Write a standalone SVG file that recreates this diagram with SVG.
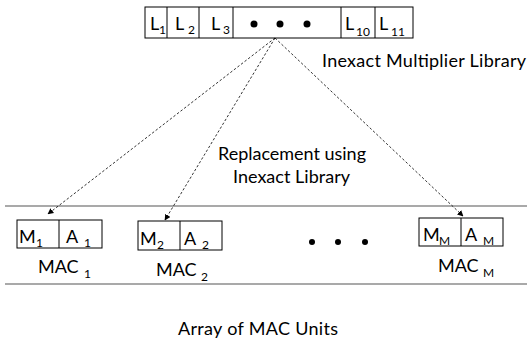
<svg xmlns="http://www.w3.org/2000/svg" width="529" height="341" viewBox="0 0 529 341">
<defs>
<style>
text{font-family:Lato,"Open Sans","Liberation Sans",sans-serif;fill:#000}
.lbl{font-size:18px}
.sub{font-size:12px}
.box{fill:#fff;stroke:#000;stroke-width:1}
.conn{stroke:#000;stroke-width:0.8;stroke-dasharray:2.5,2;fill:none}
.rule{stroke:#555;stroke-width:1.2}
</style>
<marker id="ah" viewBox="0 0 10 10" refX="9" refY="5" markerWidth="6" markerHeight="6" orient="auto-start-reverse" markerUnits="userSpaceOnUse">
<path d="M0,0 L10,5 L0,10 z" fill="#000"/>
</marker>
</defs>
<rect width="529" height="341" fill="#fff"/>

<g id="library">
<rect class="box" x="145" y="7" width="268" height="31"/>
<line x1="167" y1="7" x2="167" y2="38" stroke="#000"/>
<line x1="199" y1="7" x2="199" y2="38" stroke="#000"/>
<line x1="233" y1="7" x2="233" y2="38" stroke="#000"/>
<line x1="341" y1="7" x2="341" y2="38" stroke="#000"/>
<line x1="375" y1="7" x2="375" y2="38" stroke="#000"/>
<text class="lbl" x="150" y="30">L</text><text class="sub" x="159" y="34">1</text>
<text class="lbl" x="175" y="30">L</text><text class="sub" x="188" y="34">2</text>
<text class="lbl" x="211" y="30">L</text><text class="sub" x="223" y="34">3</text>
<circle cx="254" cy="24" r="3.5"/>
<circle cx="280" cy="24" r="3.5"/>
<circle cx="307" cy="24" r="3.5"/>
<text class="lbl" x="345" y="30">L</text><text class="sub" x="356" y="36">10</text>
<text class="lbl" x="379" y="30">L</text><text class="sub" x="391" y="36">11</text>
</g>
<g id="library-label"><text class="lbl" x="322" y="67" textLength="204">Inexact Multiplier Library</text></g>
<g id="replacement-label">
<text class="lbl" x="218" y="160" textLength="148">Replacement using</text>
<text class="lbl" x="233" y="183" textLength="117">Inexact Library</text>
</g>

<g id="rules">
<line class="rule" x1="5" y1="206" x2="527" y2="206"/>
<line class="rule" x1="5" y1="284" x2="527" y2="284"/>
</g>

<g id="mac1">
<rect class="box" x="17" y="220" width="85" height="28"/>
<line x1="59" y1="220" x2="59" y2="248" stroke="#000"/>
<text class="lbl" x="19" y="243">M</text><text class="sub" x="36" y="247">1</text>
<text class="lbl" x="66" y="243">A</text><text class="sub" x="84" y="247">1</text>
<text class="lbl" x="38" y="273">MAC</text><text class="sub" x="84" y="278">1</text>
</g>
<g id="mac2">
<rect class="box" x="138" y="221" width="84" height="29"/>
<line x1="180" y1="221" x2="180" y2="250" stroke="#000"/>
<text class="lbl" x="140" y="245">M</text><text class="sub" x="157" y="249">2</text>
<text class="lbl" x="184" y="245">A</text><text class="sub" x="202" y="249">2</text>
<text class="lbl" x="156" y="276">MAC</text><text class="sub" x="201" y="281">2</text>
</g>
<g id="dots">
<circle cx="312" cy="242" r="3"/>
<circle cx="338" cy="242" r="3"/>
<circle cx="365" cy="242" r="3"/>
</g>
<g id="macM">
<rect class="box" x="419" y="218" width="84" height="28"/>
<line x1="461" y1="218" x2="461" y2="246" stroke="#000"/>
<text class="lbl" x="423" y="241">M</text><text class="sub" x="439" y="245">M</text>
<text class="lbl" x="465" y="241">A</text><text class="sub" x="483" y="245">M</text>
<text class="lbl" x="438" y="272">MAC</text><text class="sub" x="483" y="277">M</text>
</g>

<g id="connectors">
<line class="conn" x1="275" y1="38" x2="48" y2="214" marker-end="url(#ah)"/>
<line class="conn" x1="275" y1="38" x2="165" y2="220" marker-end="url(#ah)"/>
<line class="conn" x1="275" y1="38" x2="463" y2="216" marker-end="url(#ah)"/>
</g>

<g id="array-label"><text class="lbl" x="178" y="335" textLength="160">Array of MAC Units</text></g>
</svg>
